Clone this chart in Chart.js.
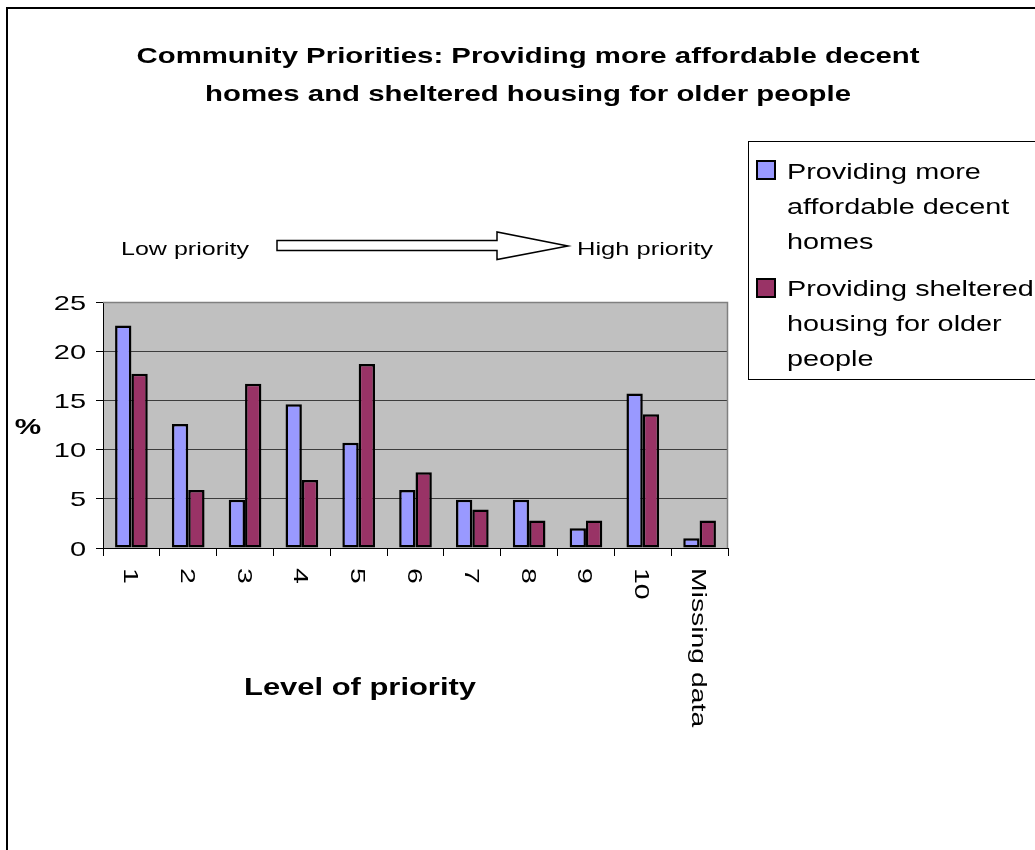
<!DOCTYPE html>
<html>
<head>
<meta charset="utf-8">
<title>Community Priorities</title>
<script src="https://cdn.jsdelivr.net/npm/chart.js@4.4.1/dist/chart.umd.min.js"></script>
<style>
  html, body { margin: 0; padding: 0; background: #ffffff; }
  canvas { display: block; }
</style>
</head>
<body>
<canvas id="chart" width="1035" height="850"></canvas>
<script>
// Survey data: share of respondents (%) giving each priority level
const categories = ['1', '2', '3', '4', '5', '6', '7', '8', '9', '10', 'Missing data'];
const affordableHomes = [22.6, 12.6, 4.9, 14.6, 10.7, 5.9, 4.9, 4.9, 2.0, 15.7, 1.0];
const shelteredHousing = [17.7, 5.9, 16.7, 6.9, 18.7, 7.7, 3.9, 2.8, 2.8, 13.6, 2.8];
const yTickValues = [0, 5, 10, 15, 20, 25];

const seriesLabels = [
  'Providing more affordable decent homes',
  'Providing sheltered housing for older people'
];
const legendLines = [
  ['Providing more', 'affordable decent', 'homes'],
  ['Providing sheltered', 'housing for older', 'people']
];
const titleLines = [
  'Community Priorities: Providing more affordable decent',
  'homes and sheltered housing for older people'
];
const xTitle = 'Level of priority';
const yTitle = '%';
const lowLabel = 'Low priority';
const highLabel = 'High priority';

const FAMILY = '"Liberation Sans", Arial, Helvetica, sans-serif';
const BLUE = '#9999FF';
const PLUM = '#993366';

// Draws text widened horizontally along its own baseline.
function wideText(ctx, str, x, y, o) {
  ctx.save();
  ctx.font = o.font;
  ctx.fillStyle = '#000';
  ctx.textBaseline = 'alphabetic';
  let sx = o.sx || 1;
  if (o.width) sx = o.width / ctx.measureText(str).width;
  ctx.translate(x, y);
  if (o.rotate) ctx.rotate(o.rotate);
  ctx.scale(sx, 1);
  ctx.textAlign = o.align || 'left';
  ctx.fillText(str, 0, 0);
  ctx.restore();
  return sx;
}

const decorPlugin = {
  id: 'decor',
  beforeDraw(chart) {
    const { ctx, chartArea: a } = chart;
    ctx.save();
    ctx.fillStyle = '#ffffff';
    ctx.fillRect(0, 0, chart.width, chart.height);
    ctx.fillStyle = '#C0C0C0';
    ctx.fillRect(a.left, a.top, a.right - a.left, a.bottom - a.top);
    ctx.restore();
  },
  afterDatasetsDraw(chart) {
    const { ctx, chartArea: a } = chart;
    // plot frame: top and right edges
    ctx.save();
    ctx.strokeStyle = '#808080';
    ctx.lineWidth = 1.5;
    ctx.beginPath();
    ctx.moveTo(a.left, a.top + 0.5);
    ctx.lineTo(a.right - 0.5, a.top + 0.5);
    ctx.lineTo(a.right - 0.5, a.bottom);
    ctx.stroke();
    ctx.restore();
  },
  afterDraw(chart) {
    const { ctx } = chart;
    const xs = chart.scales.x;
    const ys = chart.scales.y;

    // outer chart frame
    ctx.save();
    ctx.strokeStyle = '#000';
    ctx.lineWidth = 2;
    ctx.strokeRect(7, 8, 1100, 900);
    ctx.restore();

    // title
    ctx.save();
    ctx.font = 'bold 22px ' + FAMILY;
    const tsx = 783 / ctx.measureText(titleLines[0]).width;
    ctx.restore();
    wideText(ctx, titleLines[0], 528, 63, { font: 'bold 22px ' + FAMILY, sx: tsx, align: 'center' });
    wideText(ctx, titleLines[1], 528, 101, { font: 'bold 22px ' + FAMILY, sx: tsx, align: 'center' });

    // y tick labels
    yTickValues.forEach(v => {
      const py = ys.getPixelForValue(v);
      wideText(ctx, String(v), 86, py + 7.5, { font: '21px ' + FAMILY, sx: 1.38, align: 'right' });
    });

    // x tick labels, reading downwards
    categories.forEach((c, i) => {
      const px = xs.getPixelForValue(i);
      wideText(ctx, c, px - 7.5, 568, { font: '21px ' + FAMILY, sx: 1.35, align: 'left', rotate: Math.PI / 2 });
    });

    // axis titles
    wideText(ctx, yTitle, 28, 434, { font: 'bold 22px ' + FAMILY, sx: 1.35, align: 'center' });
    wideText(ctx, xTitle, 360, 695, { font: 'bold 24px ' + FAMILY, width: 232, align: 'center' });

    // priority direction arrow
    wideText(ctx, lowLabel, 121, 255, { font: '19px ' + FAMILY, width: 128, align: 'left' });
    wideText(ctx, highLabel, 577, 255, { font: '19px ' + FAMILY, width: 136, align: 'left' });
    ctx.save();
    ctx.beginPath();
    ctx.moveTo(277, 240.5);
    ctx.lineTo(497, 240.5);
    ctx.lineTo(497, 232);
    ctx.lineTo(568, 246);
    ctx.lineTo(497, 259.5);
    ctx.lineTo(497, 250.5);
    ctx.lineTo(277, 250.5);
    ctx.closePath();
    ctx.fillStyle = '#fff';
    ctx.fill();
    ctx.strokeStyle = '#000';
    ctx.lineWidth = 1.5;
    ctx.stroke();
    ctx.restore();

    // legend
    ctx.save();
    ctx.strokeStyle = '#000';
    ctx.lineWidth = 1;
    ctx.strokeRect(748.5, 141.5, 400, 238);
    ctx.restore();
    const swatchTops = [161, 279];
    const baselines = [[179, 214, 249], [296, 331, 366]];
    chart.data.datasets.forEach((ds, k) => {
      ctx.save();
      ctx.fillStyle = ds.backgroundColor;
      ctx.fillRect(757, swatchTops[k], 18, 18);
      ctx.strokeStyle = '#000';
      ctx.lineWidth = 2;
      ctx.strokeRect(757, swatchTops[k], 18, 18);
      ctx.restore();
      legendLines[k].forEach((line, j) => {
        wideText(ctx, line, 787, baselines[k][j], { font: '22px ' + FAMILY, sx: 1.31, align: 'left' });
      });
    });
  }
};

new Chart(document.getElementById('chart'), {
  type: 'bar',
  data: {
    labels: categories,
    datasets: [
      {
        label: seriesLabels[0],
        data: affordableHomes,
        backgroundColor: BLUE,
        borderColor: '#000',
        borderWidth: 2.5,
        borderSkipped: false,
        inflateAmount: 0,
        categoryPercentage: 0.575,
        barPercentage: 1.0
      },
      {
        label: seriesLabels[1],
        data: shelteredHousing,
        backgroundColor: PLUM,
        borderColor: '#000',
        borderWidth: 2.5,
        borderSkipped: false,
        inflateAmount: 0,
        categoryPercentage: 0.575,
        barPercentage: 1.0
      }
    ]
  },
  options: {
    responsive: false,
    animation: false,
    devicePixelRatio: 1,
    layout: { padding: { top: 302, right: 307, left: 0, bottom: 0 } },
    plugins: {
      legend: { display: false },
      title: { display: false },
      tooltip: { enabled: false }
    },
    scales: {
      x: {
        offset: true,
        ticks: { display: false },
        grid: {
          offset: true,
          drawOnChartArea: false,
          drawTicks: true,
          tickLength: 8,
          tickColor: '#000',
          color: '#000'
        },
        border: { display: true, color: '#000', width: 1 },
        afterFit(scale) { scale.height = 302; }
      },
      y: {
        min: 0,
        max: 25,
        ticks: { display: false, stepSize: 5 },
        grid: {
          drawTicks: true,
          tickLength: 7,
          tickColor: '#000',
          color: (c) => (c.tick && c.tick.value === 25 ? '#808080' : '#3c3c3c'),
          lineWidth: 1
        },
        border: { display: true, color: '#000', width: 1 },
        afterFit(scale) { scale.width = 103; }
      }
    }
  },
  plugins: [decorPlugin]
});
</script>
</body>
</html>
